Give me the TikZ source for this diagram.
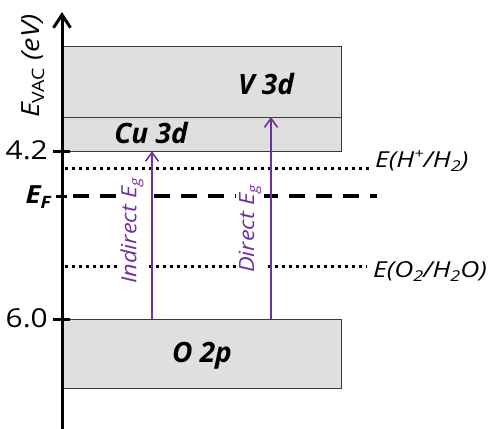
\documentclass[tikz,border=0pt]{standalone}
\usepackage{fontspec}
\setmainfont{Open Sans}
\newfontfamily\widea[FakeStretch=1.15]{Open Sans}
\newfontfamily\wideb[FakeStretch=1.2]{Open Sans}
\newfontfamily\widec[FakeStretch=1.12]{Open Sans}
\usetikzlibrary{arrows.meta}
\definecolor{bandgray}{HTML}{DFDFDF}
\definecolor{bandedge}{HTML}{3A3A3A}
\definecolor{egpurple}{HTML}{7030A0}
\newcommand\mysub[1]{\raisebox{-0.35ex}{\scalebox{0.68}{#1}}}
\newcommand\mysup[1]{\raisebox{0.75ex}{\scalebox{0.62}{#1}}}
\begin{document}
\begin{tikzpicture}[x=1pt,y=-1pt,
  band/.style={draw=bandedge,line width=1pt,fill=bandgray,anchor=north west,
    minimum width=279pt,inner sep=0pt,outer sep=0pt},
  bandtext/.style={font=\fontsize{28}{32}\selectfont\bfseries\itshape,inner sep=0pt},
  axisline/.style={line width=3pt,-{Straight Barb[length=13pt,width=17pt]}},
  tickline/.style={line width=3pt},
  ticktext/.style={font=\widea\fontsize{26}{30}\selectfont,anchor=east,inner sep=0pt},
  dotline/.style={line width=3pt,dash pattern=on 3pt off 4pt},
  dashline/.style={line width=3.3pt,dash pattern=on 16pt off 11pt},
  potlabel/.style={font=\wideb\fontsize{22}{26}\selectfont\itshape,anchor=base west,inner sep=0pt},
  eglabel/.style={font=\widec\fontsize{21}{25}\selectfont\itshape,text=egpurple,rotate=90,
    fill=white,inner sep=3pt},
  egarrow/.style={draw=egpurple,line width=1.6pt,-{Straight Barb[length=9pt,width=13pt]}}]
\useasboundingbox (0,0) rectangle (488,429);

% bands
\node[band,minimum height=71pt] (v3d) at (62,46) {};
\node[band,minimum height=34pt] (cu3d) at (62,117) {};
\node[band,minimum height=69pt] (o2p) at (62,319) {};
\node[bandtext] (v3dt) at (266,84) {V 3d};
\node[bandtext] (cu3dt) at (151,133) {Cu 3d};
\node[bandtext] (o2pt) at (202,356) {O 2p};

% axis
\coordinate (axbot) at (62,432);
\coordinate (axtop) at (62,12);
\draw[axisline] (axbot) -- (axtop);
\coordinate (t42a) at (53,151); \coordinate (t42b) at (70,151);
\coordinate (t60a) at (53,319); \coordinate (t60b) at (70,319);
\coordinate (tefa) at (56,196); \coordinate (tefb) at (67,196);
\draw[tickline] (t42a) -- (t42b);
\draw[tickline] (t60a) -- (t60b);
\draw[tickline] (tefa) -- (tefb);
\node[ticktext] (l42) at (48,150) {4.2};
\node[ticktext] (l60) at (48,318) {6.0};
\node[ticktext,font=\widec\fontsize{25}{29}\selectfont\bfseries\itshape] (lef) at (51,197) {E\mysub{F}};
\node[rotate=90,font=\widea\fontsize{25}{29}\selectfont,inner sep=0pt] (ylab) at (33,66)
  {\itshape E\mysub{\upshape VAC} (eV)};

% potential lines
\coordinate (h1) at (65,168); \coordinate (h2) at (369,168);
\coordinate (o1) at (65,266); \coordinate (o2) at (367,266);
\coordinate (f1) at (73,196); \coordinate (f2) at (377,196);
\draw[dotline] (h1) -- (h2);
\draw[dotline] (o1) -- (o2);
\draw[dashline] (f1) -- (f2);
\node[potlabel] (hlab) at (375,167) {E(H\mysup{+}/H\mysub{2})};
\node[potlabel] (olab) at (373,277) {E(O\mysub{2}/H\mysub{2}O)};

% band gap labels and arrows
\node[eglabel] (ind) at (132,231) {Indirect E\mysub{g}};
\node[eglabel] (dir) at (250,229) {Direct E\mysub{g}};
\draw[egarrow] (o2p.north west -| 152,0) -- (cu3d.south west -| 152,0);
\draw[egarrow] (o2p.north west -| 271,0) -- (v3d.south west -| 271,0);
\end{tikzpicture}
\end{document}
